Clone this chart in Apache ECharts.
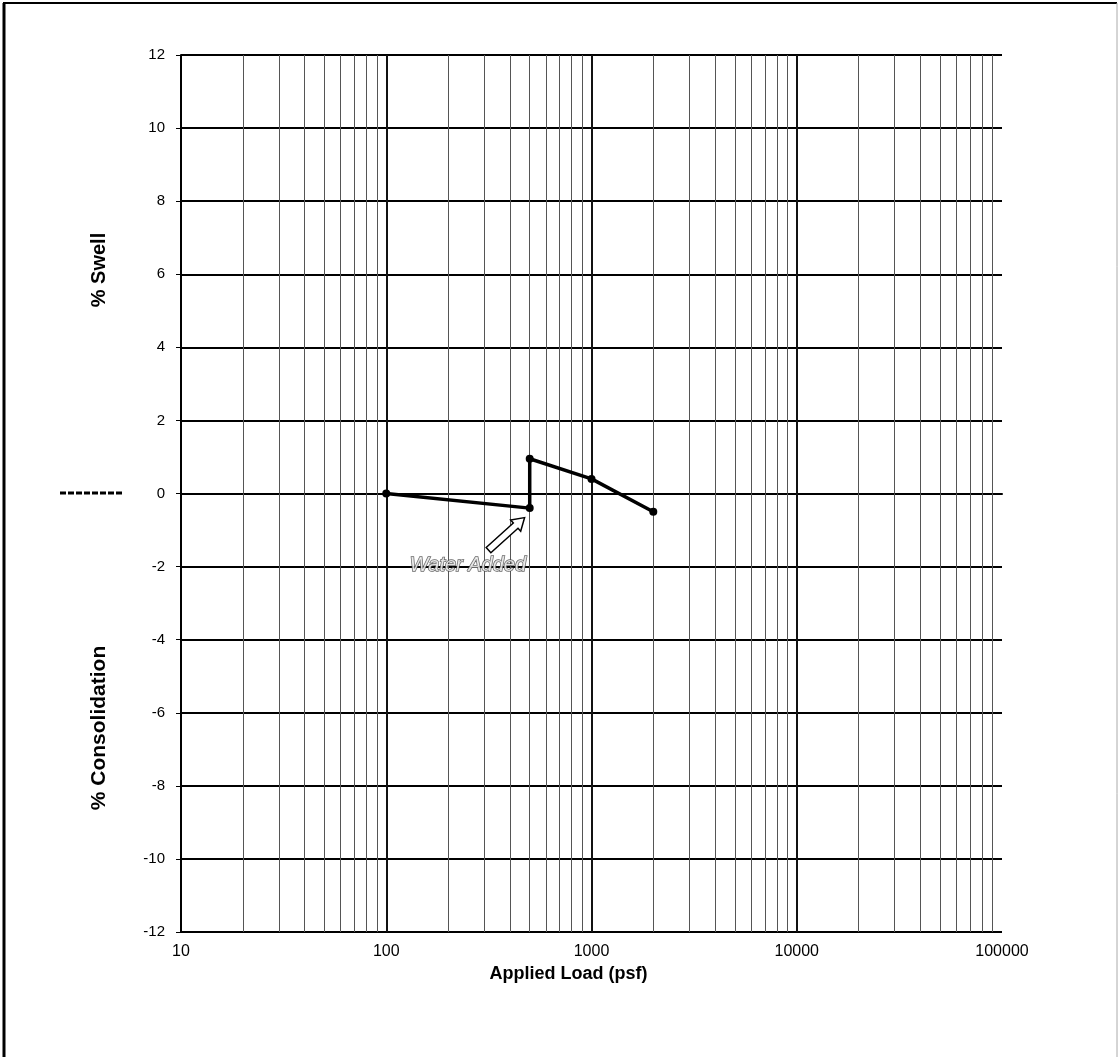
<!DOCTYPE html>
<html>
<head>
<meta charset="utf-8">
<script src="https://cdn.jsdelivr.net/npm/echarts@6/dist/echarts.min.js"></script>
<style>
html,body{margin:0;padding:0;background:#fff;}
#chart{width:1119px;height:1057px;}
</style>
</head>
<body>
<div id="chart"></div>
<script>
// Swell / consolidation test: applied load (psf) vs. % swell
var loadPsf = [100, 500, 500, 1000, 2000];
var swellPct = [0, -0.4, 0.95, 0.4, -0.5];

// Log-scale gridlines inside each decade (2..9 x 10^n)
var minorLoads = [];
[10, 100, 1000, 10000].forEach(function (d) {
  for (var k = 2; k <= 9; k++) minorLoads.push(k * d);
});
var majorLoads = [100, 1000, 10000];

// "Water Added" note: arrow tail and head, label anchor (data coords)
var noteText = 'Water Added';
var arrowTail = [315, -1.55];
var arrowHead = [472, -0.66];
var noteAnchor = [250, -1.97];

var chart = echarts.init(document.getElementById('chart'));

var titleFont = 'bold 20px "Liberation Sans Narrow", "Liberation Sans", Arial';

var option = {
  backgroundColor: '#fff',
  animation: false,
  grid: { left: 181, right: 117, top: 55, bottom: 125 },
  xAxis: {
    type: 'log',
    logBase: 10,
    min: 10,
    max: 100000,
    name: 'Applied Load (psf)',
    nameLocation: 'middle',
    nameGap: 30,
    nameTextStyle: {
      fontFamily: 'Liberation Sans, Arial', fontWeight: 'bold', fontSize: 18, color: '#000',
      padding: [0, 46, 0, 0]
    },
    axisLine: { show: true, lineStyle: { color: '#000', width: 2 } },
    axisTick: { show: false },
    axisLabel: {
      fontFamily: 'Liberation Sans, Arial', fontSize: 16, color: '#000', margin: 12,
      formatter: function (v) { return String(Math.round(v)); }
    },
    splitLine: { show: false }
  },
  yAxis: {
    type: 'value',
    min: -12,
    max: 12,
    interval: 2,
    axisLine: { show: true, onZero: false, lineStyle: { color: '#000', width: 2 } },
    axisTick: { show: true, inside: false, length: 5, lineStyle: { color: '#000' } },
    axisLabel: { fontFamily: 'Liberation Sans, Arial', fontSize: 15, color: '#000', margin: 16 },
    splitLine: { show: true, lineStyle: { color: '#000', width: 2 } }
  },
  graphic: [
    { type: 'line', shape: { x1: 3, y1: 3, x2: 1117, y2: 3 }, style: { stroke: '#000', lineWidth: 2 } },
    { type: 'line', shape: { x1: 4, y1: 3, x2: 4, y2: 1057 }, style: { stroke: '#000', lineWidth: 3 } },
    { type: 'line', shape: { x1: 1117, y1: 3, x2: 1117, y2: 1057 }, style: { stroke: '#aaa', lineWidth: 1 } },
    { type: 'line', shape: { x1: 60, y1: 493, x2: 122, y2: 493 }, style: { stroke: '#000', lineWidth: 3, lineDash: [6, 2] } },
    {
      type: 'text', x: 99, y: 270, rotation: Math.PI / 2,
      style: { text: '% Swell', fill: '#000', font: titleFont, align: 'center', verticalAlign: 'middle' }
    },
    {
      type: 'text', x: 99, y: 728, rotation: Math.PI / 2,
      style: { text: '% Consolidation', fill: '#000', font: 'bold 21px "Liberation Sans", Arial', align: 'center', verticalAlign: 'middle' }
    }
  ],
  series: [
    {
      // decade and sub-decade vertical gridlines
      type: 'line',
      data: [],
      silent: true,
      markLine: {
        silent: true,
        symbol: 'none',
        label: { show: false },
        animation: false,
        data: minorLoads.map(function (v) {
          var major = majorLoads.indexOf(v) >= 0;
          return { xAxis: v, lineStyle: { color: major ? '#111' : '#555', width: major ? 1.5 : 1, type: 'solid' } };
        }).concat(majorLoads.map(function (v) {
          return { xAxis: v, lineStyle: { color: '#111', width: 2, type: 'solid' } };
        }))
      }
    },
    {
      type: 'line',
      data: loadPsf.map(function (x, i) { return [x, swellPct[i]]; }),
      lineStyle: { color: '#000', width: 3.5 },
      itemStyle: { color: '#000' },
      symbol: 'circle',
      symbolSize: 8,
      z: 5
    },
    {
      // hollow arrow pointing at the water-added reading
      type: 'custom',
      silent: true,
      z: 6,
      data: [[arrowTail[0], arrowTail[1], arrowHead[0], arrowHead[1]]],
      renderItem: function (params, api) {
        var t = api.coord([api.value(0), api.value(1)]);
        var h = api.coord([api.value(2), api.value(3)]);
        var dx = h[0] - t[0], dy = h[1] - t[1];
        var len = Math.sqrt(dx * dx + dy * dy);
        var ux = dx / len, uy = dy / len;
        var px = -uy, py = ux;
        var hw = 3.5, headW = 7.5, headL = 12;
        var bx = h[0] - ux * headL, by = h[1] - uy * headL;
        var pts = [
          [t[0] + px * hw, t[1] + py * hw],
          [bx + px * hw, by + py * hw],
          [bx + px * headW, by + py * headW],
          [h[0], h[1]],
          [bx - px * headW, by - py * headW],
          [bx - px * hw, by - py * hw],
          [t[0] - px * hw, t[1] - py * hw]
        ];
        return {
          type: 'polygon',
          shape: { points: pts },
          style: { fill: '#fff', stroke: '#000', lineWidth: 1.5 }
        };
      }
    },
    {
      // note label
      type: 'scatter',
      silent: true,
      symbolSize: 0,
      z: 6,
      data: [noteAnchor],
      label: {
        show: true,
        position: 'inside',
        formatter: noteText,
        fontFamily: 'Liberation Sans, Arial',
        fontStyle: 'italic',
        fontSize: 20,
        color: '#fff',
        textBorderColor: '#444',
        textBorderWidth: 1.5
      }
    }
  ]
};

chart.setOption(option);
</script>
</body>
</html>
